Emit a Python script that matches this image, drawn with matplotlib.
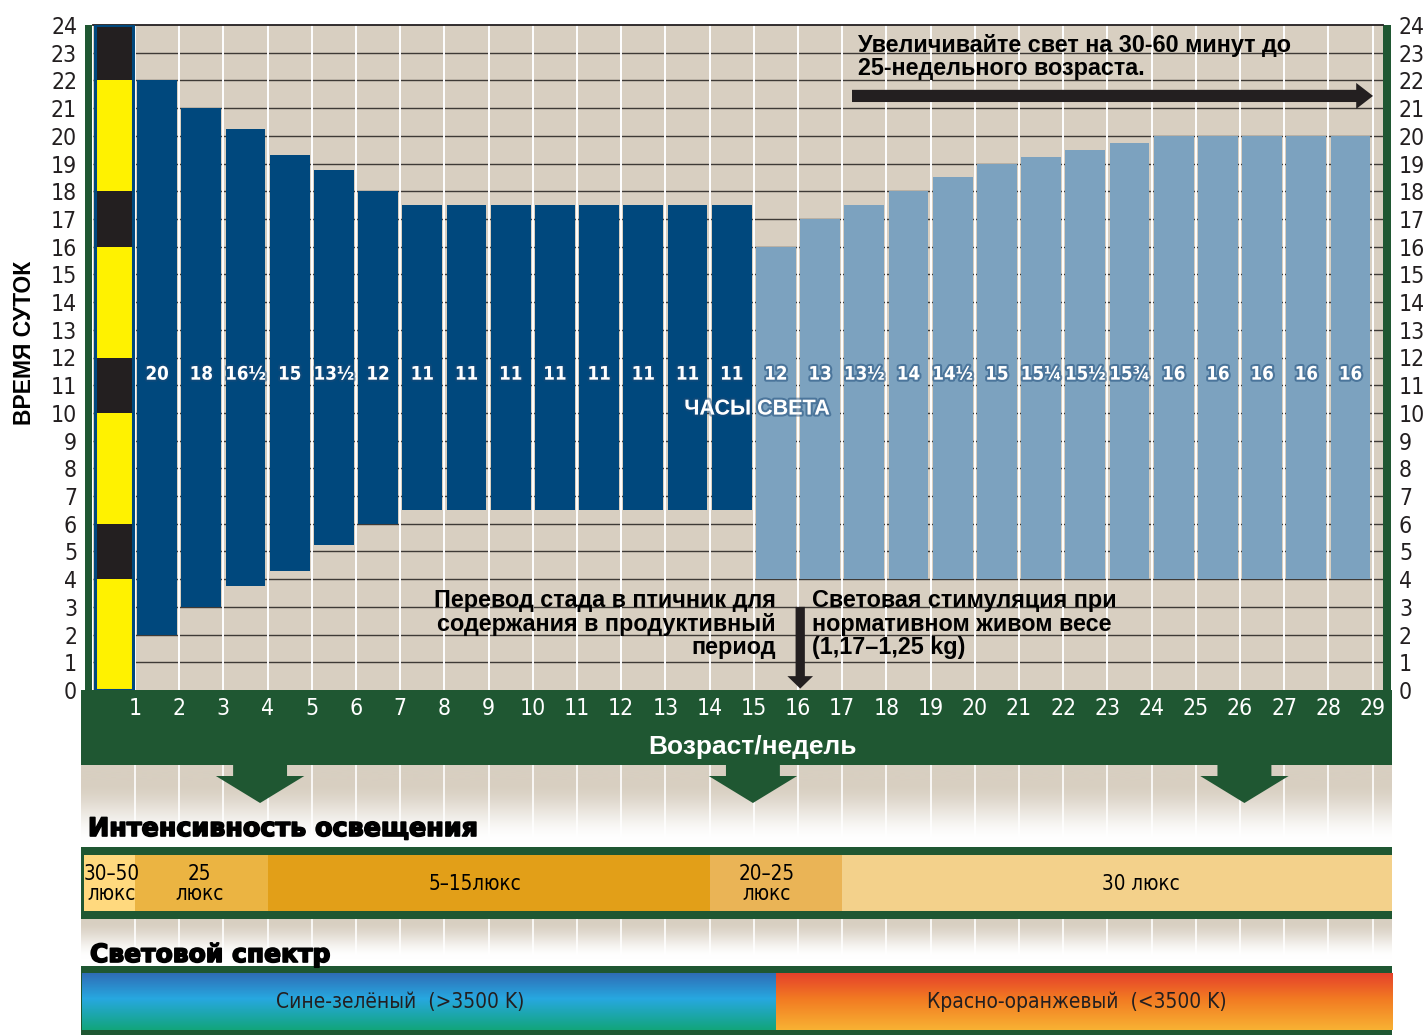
import numpy as np
import matplotlib
matplotlib.use("Agg")
import matplotlib.pyplot as plt
from matplotlib.patches import Rectangle, Polygon
from matplotlib import font_manager as fm
from matplotlib.font_manager import FontProperties
import matplotlib.patheffects as pe

# ---------------------------------------------------------------- data
weeks = list(range(1, 29))            # each bar spans week i .. i+1
light_hours = [20, 18, 16.5, 15, 13.5, 12, 11, 11, 11, 11, 11, 11, 11, 11,
               12, 13, 13.5, 14, 14.5, 15, 15.25, 15.5, 15.75, 16, 16, 16, 16, 16]
lights_on = [2, 3, 3.75, 4.3, 5.25, 6, 6.5, 6.5, 6.5, 6.5, 6.5, 6.5, 6.5, 6.5,
             4, 4, 4, 4, 4, 4, 4, 4, 4, 4, 4, 4, 4, 4]
rearing_weeks = 14                     # first 14 bars: rearing period
week_ticks = list(range(1, 30))
hour_ticks = list(range(0, 25))

# day / night strip along the left edge
day_starts = [0, 4, 6, 10, 12, 16, 18, 22]
day_lengths = [4, 2, 4, 2, 4, 2, 4, 2]
day_is_light = [True, False, True, False, True, False, True, False]

# light intensity by age
intensity_edges = [-0.15, 1, 4, 14, 17, 29.44]
intensity_labels = ["30–50\nлюкс", "25\nлюкс", "5–15люкс", "20–25\nлюкс", "30 люкс"]
intensity_label_x = [0.48, 2.45, 8.68, 15.3, 23.75]
intensity_colors = ["#FFD97E", "#EBB442", "#E29F18", "#EAB456", "#F3D18B"]

# light spectrum by age
spectrum_edges = [-0.2, 15.5, 29.44]
spectrum_labels = ["Сине-зелёный  (>3500 K)", "Красно-оранжевый  (<3500 K)"]
spectrum_label_x = [7.0, 22.3]

arrow_weeks = [3.83, 14.98, 26.1]
stimulation_week = 16.05

# ---------------------------------------------------------------- fonts
names = {f.name for f in fm.fontManager.ttflist}
SANS = "Liberation Sans" if "Liberation Sans" in names else "DejaVu Sans"
HEAVY = "DejaVu Sans"


def _is_narrow(f):
    n, fn, st = f.name.lower(), f.fname.lower(), str(f.stretch).lower()
    if "extra" in st or "ultra" in st or "extra" in fn or "ultra" in fn or "semi" in fn:
        return False
    return ("narrow" in n or "condensed" in n or "narrow" in fn or "condensed" in fn
            or st in ("condensed", "semi-condensed", "500", "75", "87.5"))


def _is_bold(f):
    w = f.weight
    if isinstance(w, str):
        return w in ("bold", "heavy", "black", "extra bold", "demibold")
    return w >= 600


def _pick_narrow(bold):
    order = ["liberation", "dejavu", "roboto", "noto sans", "open sans", "lato", "inter"]
    best, best_score = None, None
    for f in fm.fontManager.ttflist:
        fn = f.fname.lower()
        if f.style != "normal" or "italic" in fn or "oblique" in fn:
            continue
        if not _is_narrow(f) or _is_bold(f) != bold:
            continue
        if "cjk" in f.name.lower() or "mono" in f.name.lower():
            continue
        rank = next((i for i, o in enumerate(order) if o in f.name.lower()), len(order))
        if best_score is None or rank < best_score:
            best, best_score = f, rank
    return best


_nr, _nb = _pick_narrow(False), _pick_narrow(True)


def narrow(size, bold=False):
    entry = _nb if bold else _nr
    if entry is not None:
        return FontProperties(fname=entry.fname, size=size)
    return FontProperties(family="Roboto", weight="bold" if bold else "normal",
                          size=size * 0.88)


TAN = "#D8CFC1"
GREEN = "#1F5732"
DARK_BLUE = "#00487D"
LIGHT_BLUE = "#7CA2BF"
YELLOW = "#FFF200"
BLACK = "#231F20"
GRID = "#3E3A36"

W, H, DPI = 1424, 1035, 100
fig = plt.figure(figsize=(W / DPI, H / DPI), dpi=DPI)
fig.patch.set_facecolor("white")

AX_L, AX_R, AX_T, AX_B = 93, 1383, 25, 690
X0, X1 = 0.05, 29.235
scale = (AX_R - AX_L) / (X1 - X0)


def pxw(px):
    return X0 + (px - AX_L) / scale


# background layer: x in weeks, y in pixels (top = 0)
bg = fig.add_axes([0, 0, 1, 1], zorder=0)
bg.axis("off")

# main chart
ax = fig.add_axes([AX_L / W, 1 - AX_B / H, (AX_R - AX_L) / W, (AX_B - AX_T) / H], zorder=2)
ax.set_facecolor(TAN)
ax.set_xlim(X0, X1)
ax.set_ylim(0, 24)

# grid
ax.hlines(hour_ticks[1:-1], X0, X1, color=GRID, lw=1.0, zorder=1)
ax.vlines(week_ticks, 0, 24, color="white", lw=1.4, zorder=1)

# light-hour bars
bar_x = np.array(weeks) + 0.5
bar_colors = [DARK_BLUE if i < rearing_weeks else LIGHT_BLUE for i in range(len(weeks))]
ax.bar(bar_x, light_hours, bottom=lights_on, width=0.9, color=bar_colors,
       linewidth=0, zorder=3)


def hours_text(v):
    whole = int(v)
    frac = {0.0: "", 0.25: "¼", 0.5: "½", 0.75: "¾"}[round(v - whole, 2)]
    return f"{whole}{frac}"


glow = [pe.withStroke(linewidth=3, foreground="#1B4A78", alpha=0.5)]
for x, v in zip(bar_x, light_hours):
    ax.text(x, 11.4, hours_text(v), ha="center", va="center", color="white",
            fontproperties=narrow(13.4, bold=True), zorder=5, path_effects=glow)

ax.text(15.07, 10.14, "ЧАСЫ СВЕТА", ha="center", va="center", color="white",
        fontsize=15.5, fontweight="bold", family=SANS, zorder=5, path_effects=glow)

# day / night strip
strip_l, strip_r = 0.12, 0.93
ax.bar((strip_l + strip_r) / 2, day_lengths, bottom=day_starts, width=strip_r - strip_l,
       color=[YELLOW if d else BLACK for d in day_is_light], linewidth=0, zorder=3)
ax.add_patch(Rectangle((strip_l - 0.02, 0), strip_r - strip_l + 0.04, 24, fill=False,
                       edgecolor=DARK_BLUE, lw=2.2, zorder=4))

# axes decoration
for s in ["left", "right", "bottom"]:
    ax.spines[s].set_visible(False)
ax.spines["top"].set_color(BLACK)
ax.spines["top"].set_linewidth(1.3)
ax.set_yticks(hour_ticks)
ax.tick_params(axis="y", length=0, pad=11.5, left=True, right=True,
               labelleft=True, labelright=True)
ax.set_xticks(week_ticks)
ax.tick_params(axis="x", length=0, pad=5)
for tick in ax.yaxis.get_major_ticks():
    for lab in (tick.label1, tick.label2):
        lab.set_fontproperties(narrow(16.5))
        lab.set_color(BLACK)
for lab in ax.get_xticklabels():
    lab.set_fontproperties(narrow(16.5))
    lab.set_color("white")

# annotation: gradual increase
ax.text(pxw(858), 22.84, "Увеличивайте свет на 30-60 минут до\n25-недельного возраста.",
        ha="left", va="center", fontsize=16.8, fontweight="bold", family=SANS,
        color="black", linespacing=1.03, zorder=6)
head_l = 0.38
ax.add_patch(Polygon([[pxw(852), 21.22], [pxw(1373) - head_l, 21.22],
                      [pxw(1373) - head_l, 20.97], [pxw(1373), 21.44],
                      [pxw(1373) - head_l, 21.91], [pxw(1373) - head_l, 21.66],
                      [pxw(852), 21.66]], closed=True, color=BLACK, lw=0, zorder=6))

# annotation: transfer and stimulation
ax.text(pxw(776), 2.38, "Перевод стада в птичник для\nсодержания в продуктивный\nпериод",
        ha="right", va="center", fontsize=16.8, fontweight="bold", family=SANS,
        color="black", linespacing=1.03, zorder=6)
ax.text(pxw(812), 2.38, "Световая стимуляция при\nнормативном живом весе\n(1,17–1,25 kg)",
        ha="left", va="center", fontsize=16.8, fontweight="bold", family=SANS,
        color="black", linespacing=1.03, zorder=6)
sw, hw = 0.105, 0.29
ax.add_patch(Polygon([[stimulation_week - sw, 3.0], [stimulation_week + sw, 3.0],
                      [stimulation_week + sw, 0.5], [stimulation_week + hw, 0.5],
                      [stimulation_week, 0.05], [stimulation_week - hw, 0.5],
                      [stimulation_week - sw, 0.5]], closed=True, color=BLACK, lw=0, zorder=6))

# ---------------------------------------------------------------- background layer
band_l, band_r = pxw(81), pxw(1392)

# green side strips
bg.add_patch(Rectangle((pxw(85), AX_T), pxw(92) - pxw(85), AX_B - AX_T, color=GREEN, lw=0))
bg.add_patch(Rectangle((pxw(1383), AX_T), pxw(1391) - pxw(1383), AX_B - AX_T, color=GREEN, lw=0))

# green axis band
bg.add_patch(Rectangle((band_l, 690), band_r - band_l, 75, color=GREEN, lw=0, zorder=2))
bg.text(pxw(752), 747, "Возраст/недель", ha="center", va="center", color="white",
        fontsize=19, fontweight="bold", family=SANS, zorder=3)

tan_rgb = np.array([216, 207, 193]) / 255.0


def fade(y0, y1, hold, end):
    ys = np.linspace(y0, y1, 200)
    t = np.clip((ys - hold) / (end - hold), 0, 1)
    t = t * t * (3 - 2 * t)
    col = tan_rgb[None, :] * (1 - t[:, None]) + t[:, None]
    return col[:, None, :]


bg.imshow(fade(765, 847, 782, 842), extent=[band_l, band_r, 847, 765], origin="upper",
          aspect="auto", zorder=1, interpolation="bilinear")
bg.imshow(fade(919, 966, 921, 958), extent=[band_l, band_r, 966, 919], origin="upper",
          aspect="auto", zorder=1, interpolation="bilinear")
bg.vlines(week_ticks, 765, 847, color="white", lw=1.2, zorder=1.5)
bg.vlines(week_ticks, 919, 966, color="white", lw=1.2, zorder=1.5)

# green pointer arrows
for aw in arrow_weeks:
    s_half, h_half = 0.61, 1.0
    bg.add_patch(Polygon([[aw - s_half, 765], [aw + s_half, 765], [aw + s_half, 776],
                          [aw + h_half, 776], [aw, 803], [aw - h_half, 776],
                          [aw - s_half, 776]], closed=True, color=GREEN, lw=0, zorder=3))

heavy = [pe.withStroke(linewidth=1.2, foreground="black")]

# light intensity band
bg.text(pxw(88), 829, "Интенсивность освещения", ha="left", va="center",
        fontsize=18.3, fontweight="bold", family=HEAVY, color="black", zorder=3,
        path_effects=heavy)
bg.add_patch(Rectangle((band_l, 847), band_r - band_l, 72, color=GREEN, lw=0, zorder=2))
for i, lab in enumerate(intensity_labels):
    x0, x1 = intensity_edges[i], intensity_edges[i + 1]
    bg.add_patch(Rectangle((x0, 855), x1 - x0, 56, color=intensity_colors[i], lw=0, zorder=3))
    bg.text(intensity_label_x[i], 884, lab, ha="center", va="center",
            fontproperties=narrow(14.8), color="black", linespacing=1.05, zorder=4)

# light spectrum band
bg.text(pxw(90), 955, "Световой спектр", ha="left", va="center",
        fontsize=18, fontweight="bold", family=HEAVY, color="black", zorder=4,
        path_effects=heavy)
bg.add_patch(Rectangle((band_l, 966), band_r - band_l, 69, color=GREEN, lw=0, zorder=2))


def three_stop(top, mid, bot, n=120):
    top, mid, bot = (np.array(matplotlib.colors.to_rgb(c)) for c in (top, mid, bot))
    t = np.linspace(0, 1, n)[:, None]
    first = top + (mid - top) * np.clip(t / 0.45, 0, 1)
    second = mid + (bot - mid) * np.clip((t - 0.45) / 0.55, 0, 1)
    col = np.where(t < 0.45, first, second)
    return col[:, None, :]


bg.imshow(three_stop("#2F6DB6", "#27A8E0", "#12A57B"),
          extent=[spectrum_edges[0], spectrum_edges[1], 1030, 973], origin="upper",
          aspect="auto", zorder=3, interpolation="bilinear")
bg.imshow(three_stop("#E5412B", "#F27A22", "#F8B233"),
          extent=[spectrum_edges[1], spectrum_edges[2], 1030, 973], origin="upper",
          aspect="auto", zorder=3, interpolation="bilinear")
for lx, lab in zip(spectrum_label_x, spectrum_labels):
    bg.text(lx, 1002, lab, ha="center", va="center", fontproperties=narrow(15),
            color="#231F20", zorder=4)

bg.set_xlim(X0 - AX_L / scale, X1 + (W - AX_R) / scale)
bg.set_ylim(H, 0)

# vertical axis title
fig.text(25 / W, 1 - 343 / H, "ВРЕМЯ СУТОК", rotation=90, ha="center", va="center",
         fontsize=16.5, fontweight="bold", family=SANS, color="black")

fig.savefig("out.png", dpi=DPI, facecolor="white")
